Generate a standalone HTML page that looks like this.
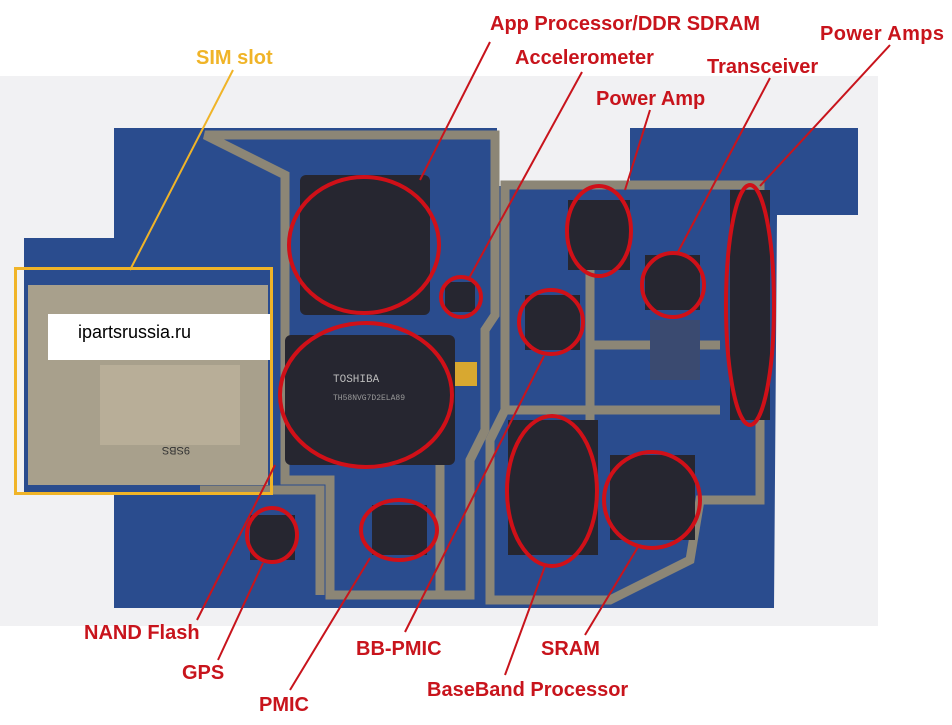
<!DOCTYPE html>
<html><head><meta charset="utf-8"><style>
html,body{margin:0;padding:0;background:#fff;width:952px;height:725px;overflow:hidden}
svg{display:block}
.l{font-family:"Liberation Sans",sans-serif;font-weight:bold;font-size:20px;fill:#c8141c}
</style></head><body>
<svg width="952" height="725" viewBox="0 0 952 725" xmlns="http://www.w3.org/2000/svg">
<rect x="0" y="76" width="878" height="550" fill="#f1f1f3"/>
<!-- board -->
<path d="M114,128 L497,128 L497,186 L630,186 L630,128 L858,128 L858,215 L777,215 L774,608 L114,608 L114,493 L24,493 L24,238 L114,238 Z" fill="#2a4c8e"/>
<!-- shields -->
<g fill="none" stroke="#8c8676" stroke-width="9">
<path d="M205,135 L495,135 L495,315 L485,330 L485,430 L470,460 L470,595 L330,595 L330,480 L285,480 L285,175 Z"/>
<path d="M505,185 L760,185 L760,500 L700,500 L690,560 L610,600 L490,600 L490,440 L505,410 Z"/>
<path d="M590,260 L590,440 M590,345 L720,345 M505,410 L720,410"/>
<path d="M200,490 L320,490 L320,595 M440,420 L440,595"/>
</g>
<!-- chips -->
<g fill="#262630">
<rect x="300" y="175" width="130" height="140" rx="6"/>
<rect x="285" y="335" width="170" height="130" rx="6"/>
<rect x="508" y="420" width="90" height="135"/>
<rect x="610" y="455" width="85" height="85"/>
<rect x="568" y="200" width="62" height="70"/>
<rect x="645" y="255" width="55" height="55"/>
<rect x="730" y="190" width="40" height="230"/>
<rect x="525" y="295" width="55" height="55"/>
<rect x="445" y="282" width="30" height="30"/>
<rect x="250" y="515" width="45" height="45"/>
<rect x="372" y="505" width="55" height="50"/>
<rect x="650" y="320" width="50" height="60" fill="#3a4a70"/>
</g>
<text x="333" y="382" font-family="Liberation Mono,monospace" font-size="11" fill="#bbb">TOSHIBA</text>
<text x="333" y="400" font-family="Liberation Mono,monospace" font-size="8" fill="#999">TH58NVG7D2ELA89</text>
<rect x="455" y="362" width="22" height="24" fill="#d8a830"/>
<!-- SIM holder -->
<rect x="28" y="285" width="240" height="200" fill="#a8a08c"/>
<rect x="100" y="365" width="140" height="80" fill="#b8ae98"/>
<text x="160" y="455" font-family="Liberation Sans,sans-serif" font-size="11" fill="#333" transform="rotate(180 175 451)">9SBS</text>
<rect x="15.5" y="268.5" width="256" height="225" fill="none" stroke="#f0b428" stroke-width="3"/>
<rect x="48" y="314" width="222" height="46" fill="#fff"/>
<text x="78" y="338" font-family="Liberation Sans,sans-serif" font-size="18" fill="#000">ipartsrussia.ru</text>
<!-- red circles -->
<g fill="none" stroke="#d01018" stroke-width="4">
<ellipse cx="364" cy="245" rx="75" ry="68"/>
<ellipse cx="461" cy="297" rx="20" ry="20"/>
<ellipse cx="366" cy="395" rx="86" ry="72"/>
<ellipse cx="599" cy="231" rx="32" ry="45"/>
<ellipse cx="673" cy="285" rx="31" ry="32"/>
<ellipse cx="750" cy="305" rx="24" ry="120"/>
<ellipse cx="551" cy="322" rx="32" ry="32"/>
<ellipse cx="552" cy="491" rx="45" ry="75"/>
<ellipse cx="652" cy="500" rx="48" ry="48"/>
<ellipse cx="272" cy="535" rx="25" ry="27"/>
<ellipse cx="399" cy="530" rx="38" ry="30"/>
</g>
<!-- leaders -->
<g stroke="#c8141c" stroke-width="2">
<line x1="490" y1="42" x2="420" y2="180"/>
<line x1="582" y1="72" x2="468" y2="280"/>
<line x1="650" y1="110" x2="625" y2="190"/>
<line x1="770" y1="78" x2="678" y2="252"/>
<line x1="890" y1="45" x2="760" y2="186"/>
<line x1="197" y1="620" x2="275" y2="465"/>
<line x1="218" y1="660" x2="263" y2="563"/>
<line x1="290" y1="690" x2="370" y2="558"/>
<line x1="405" y1="632" x2="544" y2="356"/>
<line x1="505" y1="675" x2="545" y2="566"/>
<line x1="585" y1="635" x2="638" y2="547"/>
</g>
<line x1="233" y1="70" x2="130" y2="270" stroke="#f0b428" stroke-width="2"/>
<!-- labels -->
<text class="l" x="490" y="30">App Processor/DDR SDRAM</text>
<text class="l" x="515" y="64">Accelerometer</text>
<text class="l" x="596" y="105">Power Amp</text>
<text class="l" x="707" y="73">Transceiver</text>
<text class="l" x="820" y="40" textLength="124">Power Amps</text>
<text class="l" x="196" y="64" style="fill:#f0b428">SIM slot</text>
<text class="l" x="84" y="639">NAND Flash</text>
<text class="l" x="182" y="679">GPS</text>
<text class="l" x="259" y="711">PMIC</text>
<text class="l" x="356" y="655">BB-PMIC</text>
<text class="l" x="427" y="696">BaseBand Processor</text>
<text class="l" x="541" y="655">SRAM</text>
</svg>
</body></html>
